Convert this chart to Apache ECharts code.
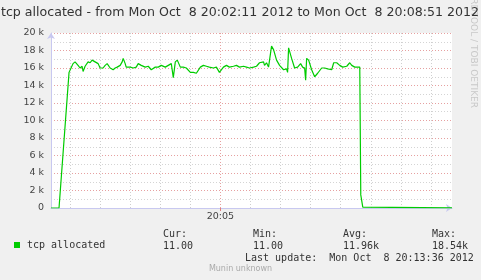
<!DOCTYPE html>
<html>
<head>
<meta charset="utf-8">
<script src="https://cdn.jsdelivr.net/npm/echarts@6/dist/echarts.min.js"></script>
<style>
html,body{margin:0;padding:0;background:#f0f0f0;}
#c{width:481px;height:280px;}
</style>
</head>
<body>
<div id="c"></div>
<script>
// ---- data ----
const titleText = 'tcp allocated - from Mon Oct  8 20:02:11 2012 to Mon Oct  8 20:08:51 2012';
const watermark = 'RRDTOOL / TOBI OETIKER';
const seriesName = 'tcp allocated';
const startSec = 20 * 3600 + 2 * 60 + 11; // 20:02:11
const spanSec = 400;                        // to 20:08:51
const yTicks = [0, 2000, 4000, 6000, 8000, 10000, 12000, 14000, 16000, 18000, 20000];
const xLabel = '20:05:00';
// seconds after 20:02:11
const tOffsets = [0, 8, 18, 20, 22, 24, 27, 29, 31, 32, 34, 37, 39, 41, 44, 47, 49, 52, 54, 56, 59, 62, 64, 66, 69, 71, 72, 74, 75, 79, 82, 85, 87, 90, 94, 97, 100, 104, 107, 110, 114, 117, 120, 122, 124, 126, 129, 132, 135, 139, 142, 145, 149, 152, 155, 158, 162, 165, 168, 172, 175, 178, 182, 185, 188, 192, 195, 198, 202, 205, 208, 212, 213, 215, 217, 218, 220, 222, 225, 228, 232, 235, 236, 237, 240, 243, 246, 249, 251, 253, 254, 255, 257, 260, 263, 266, 270, 273, 276, 280, 282, 285, 288, 291, 295, 298, 300, 303, 306, 308, 309, 311, 312, 400];
const values = [0, 0, 15500, 16000, 16500, 16700, 16300, 16000, 16200, 15600, 16200, 16700, 16600, 16900, 16700, 16500, 16000, 16000, 16300, 16500, 16000, 15800, 16000, 16100, 16300, 16700, 17100, 16500, 16100, 16100, 16000, 16100, 16500, 16300, 16100, 16200, 15800, 16100, 16100, 16300, 16100, 16300, 16500, 14900, 16700, 16900, 16100, 16100, 16000, 15500, 15500, 15400, 16100, 16300, 16200, 16100, 16000, 16100, 15500, 16100, 16300, 16100, 16200, 16300, 16100, 16200, 16100, 16000, 16100, 16200, 16600, 16700, 16300, 16600, 16100, 16000, 18500, 18100, 16900, 16300, 15800, 15900, 15500, 18300, 17100, 16000, 16100, 16500, 16100, 16000, 14600, 17100, 16900, 15800, 15000, 15400, 16000, 16000, 15900, 15800, 16600, 16600, 16300, 16100, 16200, 16600, 16300, 16100, 16100, 16100, 1500, 100, 11, 11];
const statHeads = ['Cur:', 'Min:', 'Avg:', 'Max:'];
const statVals = ['11.00', '11.00', '11.96k', '18.54k'];
const lastUpdate = 'Last update:  Mon Oct  8 20:13:36 2012';
const footer = 'Munin unknown';

// ---- build ----
function fmt(s) {
  const h = Math.floor(s / 3600), m = Math.floor(s % 3600 / 60), x = s % 60;
  const p = n => (n < 10 ? '0' : '') + n;
  return p(h) + ':' + p(m) + ':' + p(x);
}
const categories = [];
for (let i = 0; i <= spanSec; i++) categories.push(fmt(startSec + i));
const seriesData = tOffsets.map((t, i) => [t, values[i]]);
const isHalfMin = v => /:(00|30)$/.test(v);

const chart = echarts.init(document.getElementById('c'), null, {renderer: 'canvas'});
const mono = '"DejaVu Sans Mono", monospace';
const sans = '"DejaVu Sans", sans-serif';
const statX = [163, 253, 343, 432];
const graphics = [
  {type: 'text', x: 473, y: 108, rotation: -Math.PI / 2, z: 1, style: {text: watermark, font: '9px ' + sans, fill: '#c8c8c8', align: 'right', verticalAlign: 'middle'}},
  {type: 'text', x: 1, y: 13, z: 2, style: {text: titleText, font: '12.6px ' + sans, fill: '#333', verticalAlign: 'middle'}},
  {type: 'text', x: 245, y: 258, style: {text: lastUpdate, font: '10px ' + mono, fill: '#333', verticalAlign: 'middle'}},
  {type: 'text', x: 240.5, y: 269, style: {text: footer, font: '8px ' + sans, fill: '#aaa', align: 'center', verticalAlign: 'middle'}}
];
statHeads.forEach((h, i) => {
  graphics.push({type: 'text', x: statX[i], y: 234, style: {text: h, font: '10px ' + mono, fill: '#333', verticalAlign: 'middle'}});
  graphics.push({type: 'text', x: statX[i], y: 246, style: {text: statVals[i], font: '10px ' + mono, fill: '#333', verticalAlign: 'middle'}});
});

const axisCol = '#c8c8f0';
chart.setOption({
  backgroundColor: '#f0f0f0',
  animation: false,
  grid: {left: 51, right: 29, top: 33, bottom: 72, show: true, backgroundColor: '#fff', borderWidth: 0},
  legend: {
    data: [seriesName], left: 14, top: 240, padding: 0, icon: 'rect', itemWidth: 6, itemHeight: 6,
    textStyle: {fontFamily: mono, fontSize: 10, color: '#333', padding: [0, 0, 0, 2]}
  },
  xAxis: [{
    type: 'category', data: categories, boundaryGap: false,
    axisLine: {show: true, lineStyle: {color: axisCol}, symbol: ['none', 'arrow'], symbolSize: [6, 6]},
    axisTick: {show: false},
    axisLabel: {show: false},
    splitLine: {show: true, interval: (i, v) => isHalfMin(v) && v !== xLabel, lineStyle: {color: '#cfcfcf', type: [1, 2], width: 1}}
  }, {
    type: 'category', data: categories, boundaryGap: false, position: 'bottom',
    axisLine: {show: false},
    axisTick: {show: true, interval: (i, v) => v === xLabel, length: 3, lineStyle: {color: '#e08080'}},
    axisLabel: {show: true, interval: (i, v) => v === xLabel, formatter: v => v.slice(0, 5), margin: 4, fontFamily: sans, fontSize: 9.5, color: '#444'},
    splitLine: {show: true, interval: (i, v) => v === xLabel, lineStyle: {color: '#e6a0a0', type: [1, 2], width: 1}}
  }],
  yAxis: {
    type: 'value', min: yTicks[0], max: yTicks[yTicks.length - 1], interval: yTicks[1] - yTicks[0],
    axisLine: {show: true, lineStyle: {color: axisCol}, symbol: ['none', 'arrow'], symbolSize: [6, 6]},
    axisTick: {show: false},
    axisLabel: {margin: 7, fontFamily: sans, fontSize: 9.5, color: '#444', formatter: v => v === 0 ? '0' : (v / 1000) + ' k'},
    splitLine: {show: true, lineStyle: {color: '#e6a0a0', type: [1, 2], width: 1}},
    minorTick: {show: false, splitNumber: 2},
    minorSplitLine: {show: true, lineStyle: {color: '#d4d4d4', type: [1, 2], width: 1}}
  },
  series: [{
    name: seriesName, type: 'line', data: seriesData, xAxisIndex: 0,
    showSymbol: false, symbol: 'none', color: '#00cc00',
    lineStyle: {color: '#00cc00', width: 1.2}, z: 5
  }],
  graphic: graphics
});
</script>
</body>
</html>
